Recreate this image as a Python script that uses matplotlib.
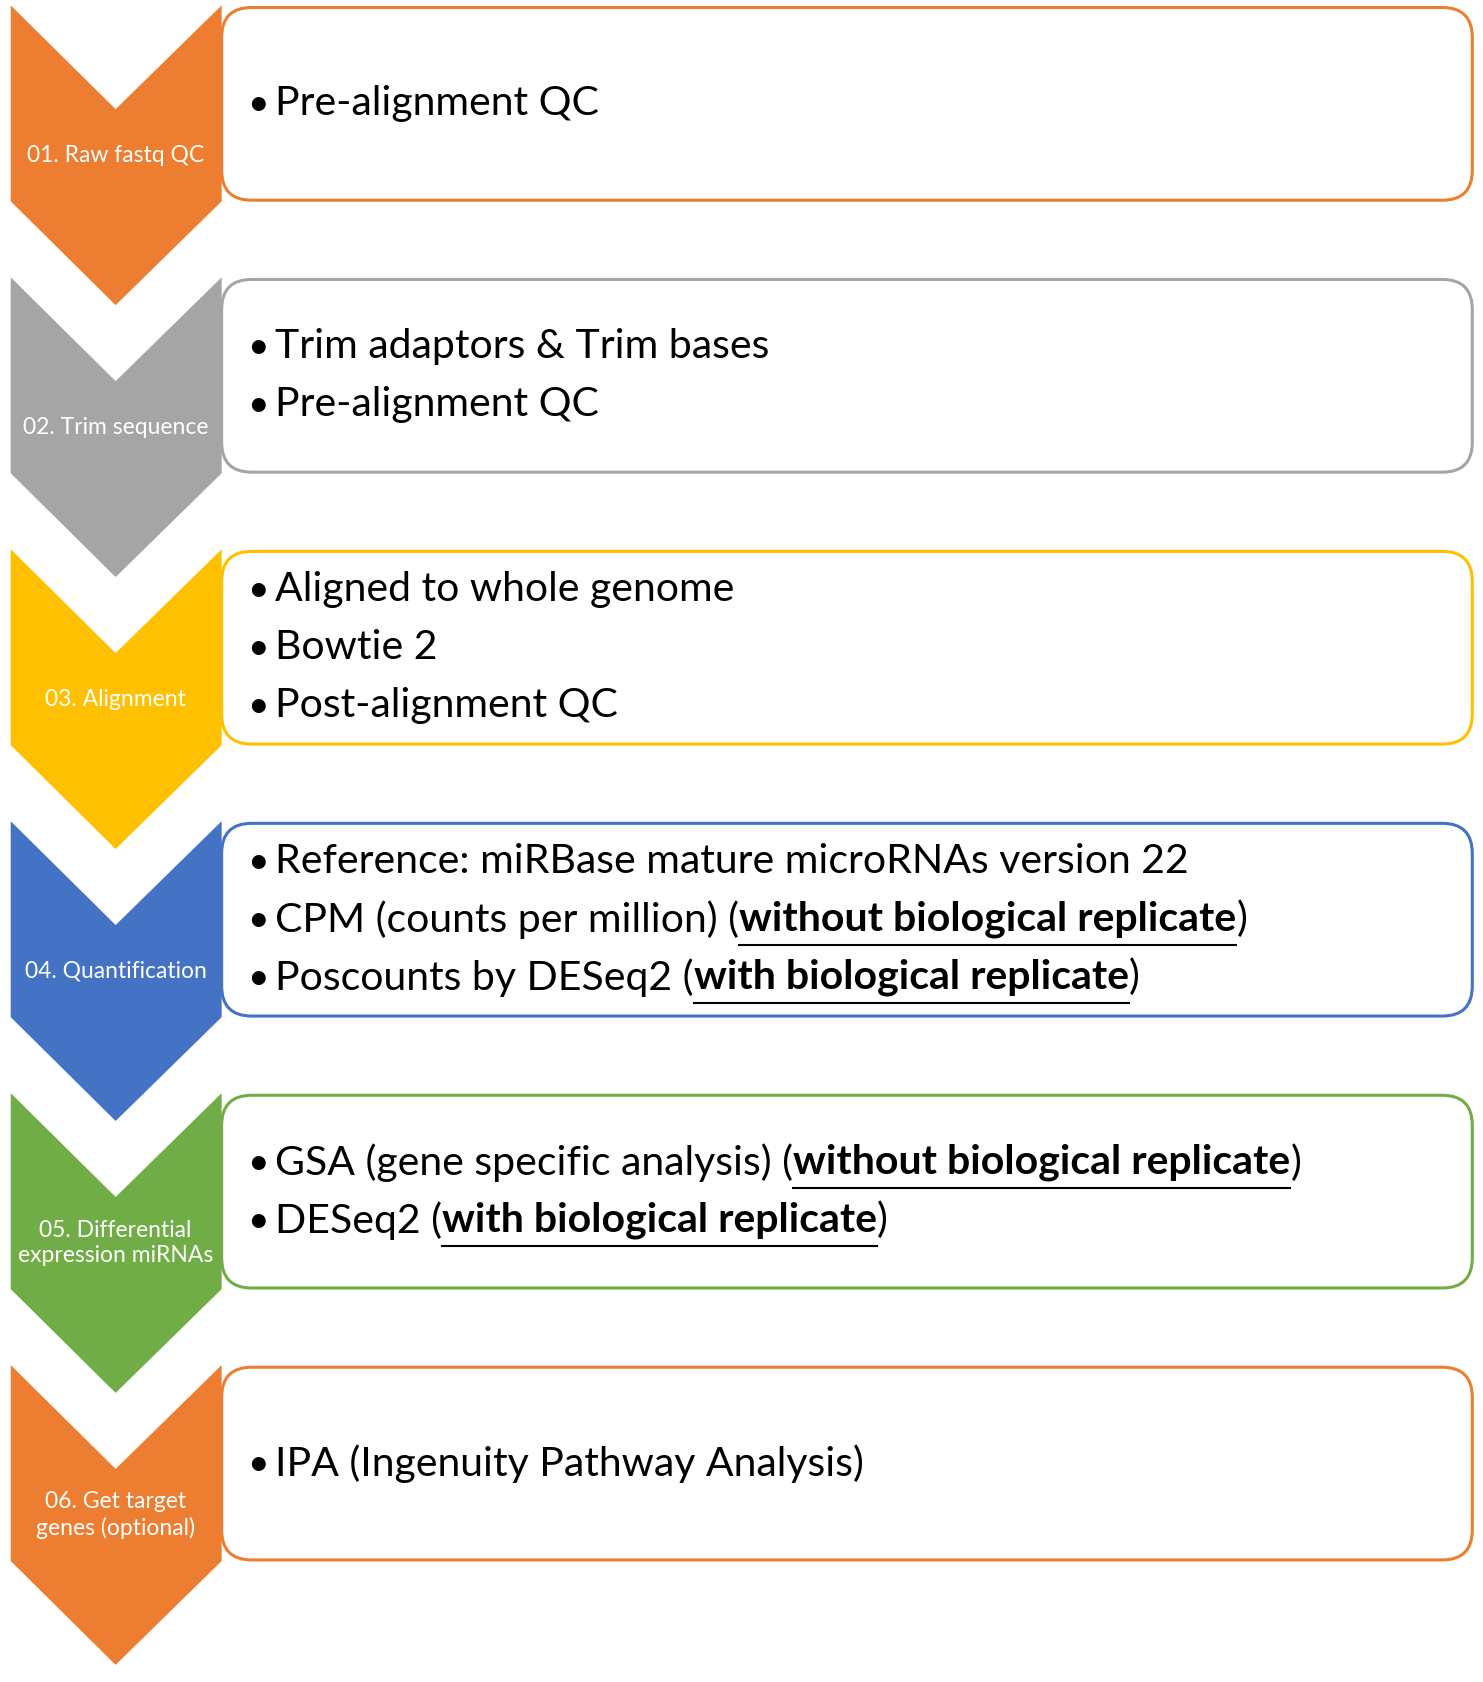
import matplotlib.pyplot as plt
from matplotlib.patches import Polygon, FancyBboxPatch

plt.rcParams['font.family'] = ['Lato', 'DejaVu Sans']

W, H = 1385, 1571
steps = ["01. Raw fastq QC", "02. Trim sequence", "03. Alignment", "04. Quantification",
         "05. Differential\nexpression miRNAs", "06. Get target\ngenes (optional)"]
colors = ["#ED7D31", "#A5A5A5", "#FFC000", "#4472C4", "#70AD47", "#ED7D31"]
# each line is a list of (text, bold) runs
items = [
    [[("Pre-alignment QC", False)]],
    [[("Trim adaptors & Trim bases", False)], [("Pre-alignment QC", False)]],
    [[("Aligned to whole genome", False)], [("Bowtie 2", False)], [("Post-alignment QC", False)]],
    [[("Reference: miRBase mature microRNAs version 22", False)],
     [("CPM (counts per million) (", False), ("without biological replicate", True), (")", False)],
     [("Poscounts by DESeq2 (", False), ("with biological replicate", True), (")", False)]],
    [[("GSA (gene specific analysis) (", False), ("without biological replicate", True), (")", False)],
     [("DESeq2 (", False), ("with biological replicate", True), (")", False)]],
    [[("IPA (Ingenuity Pathway Analysis)", False)]],
]

fig = plt.figure(figsize=(14.83, 16.82), dpi=100)
ax = fig.add_axes([0, 0, 1, 1])
ax.set_xlim(0, W)
ax.set_ylim(H, 0)
ax.axis('off')
fig.canvas.draw()
r = fig.canvas.get_renderer()
inv = ax.transData.inverted()

for i, (lab, col, lines) in enumerate(zip(steps, colors, items)):
    y0 = 5 + 254 * i
    box = FancyBboxPatch((207, y0 + 2), 1168, 180, boxstyle="round,pad=0,rounding_size=28",
                         facecolor='white', edgecolor=col, lw=2.2, zorder=1)
    ax.add_patch(box)
    # chevron sits over the left edge of the box
    chev = Polygon([(10, y0), (108, y0 + 97), (207, y0), (207, y0 + 183),
                    (108, y0 + 280), (10, y0 + 183)], closed=True, facecolor=col,
                   edgecolor='none', zorder=2)
    ax.add_patch(chev)
    ax.text(108, y0 + 140, lab, color='white', fontsize=16.5, ha='center', va='center',
            linespacing=1.25, zorder=3)
    n = len(lines)
    first = y0 + 92 - 27 * (n - 1)
    for j, runs in enumerate(lines):
        y = first + 54 * j
        ax.text(231, y, "\u2022", fontsize=27, va='center', ha='left', zorder=3)
        x = 257
        for txt, bold in runs:
            t = ax.text(x, y, txt, fontsize=29.5, va='center', ha='left',
                        fontweight='bold' if bold else 'normal', zorder=3)
            bb = t.get_window_extent(r)
            (x1, _), (x2, _) = inv.transform([(bb.x0, bb.y0), (bb.x1, bb.y1)])
            if bold:
                ax.plot([x1, x2], [y + 24, y + 24], color='black', lw=1.5, zorder=3)
            x = x2

fig.savefig("out.png", dpi=100)
